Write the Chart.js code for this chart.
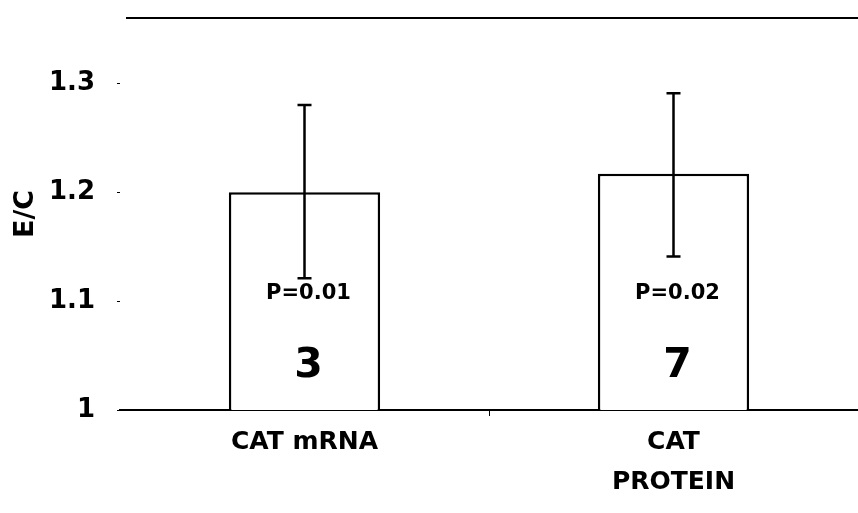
<!DOCTYPE html>
<html>
<head>
<meta charset="utf-8">
<script src="https://cdn.jsdelivr.net/npm/chart.js@4"></script>
<style>
	body { margin: 0; background: #fff; }
	#wrap { width: 858px; height: 513px; }
</style>
</head>
<body>
<div id="wrap"><canvas id="chart"></canvas></div>
<script>
// data
const categories = [['CAT mRNA'], ['CAT', 'PROTEIN']];
const ratios = [1.2, 1.217];
const errLow = [1.121, 1.141];
const errHigh = [1.28, 1.291];
const pLabels = ['P=0.01', 'P=0.02'];
const nLabels = ['3', '7'];
const yTicks = [1, 1.1, 1.2, 1.3];
const yTickLabels = ['1', '1.1', '1.2', '1.3'];

const FONT = "'DejaVu Sans', sans-serif";

// error bars, top frame line and in-bar text
const extras = {
	id: 'extras',
	afterDatasetsDraw(chart) {
		const ctx = chart.ctx;
		const x = chart.scales.x;
		const y = chart.scales.y;
		const area = chart.chartArea;
		ctx.save();
		ctx.strokeStyle = '#000';
		ctx.lineWidth = 2;

		// line along the top of the plot
		ctx.beginPath();
		ctx.moveTo(area.left + 6, area.top);
		ctx.lineTo(area.right, area.top);
		ctx.stroke();

		ctx.lineWidth = 2.5;
		ratios.forEach((v, i) => {
			const cx = x.getPixelForValue(i);
			const top = y.getPixelForValue(errHigh[i]);
			const bot = y.getPixelForValue(errLow[i]);
			ctx.beginPath();
			ctx.moveTo(cx, top);
			ctx.lineTo(cx, bot);
			ctx.moveTo(cx - 7, top);
			ctx.lineTo(cx + 7, top);
			ctx.moveTo(cx - 7, bot);
			ctx.lineTo(cx + 7, bot);
			ctx.stroke();

			ctx.fillStyle = '#000';
			ctx.textAlign = 'center';
			ctx.textBaseline = 'middle';
			ctx.font = 'bold 21px ' + FONT;
			ctx.fillText(pLabels[i], cx + 4, y.getPixelForValue(1.107));
			ctx.font = 'bold 41px ' + FONT;
			ctx.fillText(nLabels[i], cx + 4, y.getPixelForValue(1.04));
		});
		ctx.restore();
	}
};

new Chart(document.getElementById('chart'), {
	type: 'bar',
	data: {
		labels: categories,
		datasets: [{
			data: ratios,
			backgroundColor: '#fff',
			borderColor: '#000',
			borderWidth: 2.5,
			categoryPercentage: 1,
			barPercentage: 0.41
		}]
	},
	options: {
		responsive: true,
		maintainAspectRatio: false,
		animation: false,
		layout: {
			padding: { top: 18, left: 0, right: 0, bottom: 0 }
		},
		plugins: {
			legend: { display: false },
			tooltip: { enabled: false }
		},
		scales: {
			x: {
				afterFit: scale => {
					scale.height = 103;
					scale.paddingLeft = 0;
					scale.paddingRight = 0;
				},
				border: { display: true, color: '#000', width: 2 },
				grid: {
					drawOnChartArea: false,
					tickLength: 6,
					// only the divider between the two categories shows
					color: ctx => ctx.index === 1 ? '#000' : 'rgba(0,0,0,0)'
				},
				ticks: {
					color: '#000',
					font: { family: FONT, size: 25, weight: 'bold', lineHeight: 1.6 },
					padding: 6,
					maxRotation: 0
				}
			},
			y: {
				min: 1,
				max: 1.36,
				afterFit: scale => {
					scale.width = 120;
					scale.paddingTop = 0;
					scale.paddingBottom = 0;
				},
				afterBuildTicks: scale => {
					scale.ticks = yTicks.map(v => ({ value: v }));
				},
				border: { display: false },
				grid: {
					drawOnChartArea: false,
					tickLength: 3,
					color: '#000'
				},
				ticks: {
					color: '#000',
					font: { family: FONT, size: 26, weight: 'bold' },
					padding: 22,
					callback: (v, i) => yTickLabels[i]
				},
				title: {
					display: true,
					text: 'E/C',
					color: '#000',
					font: { family: FONT, size: 27, weight: 'bold' },
					padding: { top: 10, bottom: 0 }
				}
			}
		}
	},
	plugins: [extras]
});
</script>
</body>
</html>
